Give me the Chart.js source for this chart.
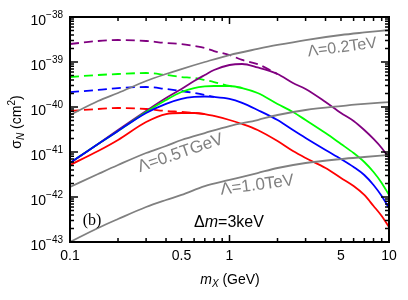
<!DOCTYPE html>
<html>
<head>
<meta charset="utf-8">
<script src="https://cdn.jsdelivr.net/npm/chart.js@4.4.0/dist/chart.umd.min.js"></script>
<style>
  html, body { margin: 0; padding: 0; background: #fff; }
  #wrap { width: 408px; height: 300px; }
</style>
</head>
<body>
<div id="wrap"><canvas id="chart"></canvas></div>
<script>
// m_X in GeV
const mass = [0.1, 0.15, 0.2, 0.3, 0.4, 0.5, 0.6, 0.7, 0.8, 1, 1.2, 1.5, 2, 2.5, 3, 4, 5, 6, 7, 8, 9, 10];
const massLam = [0.1, 0.15, 0.2, 0.3, 0.4, 0.5, 0.7, 1, 1.5, 2, 3, 5, 7, 10];

// sigma_N in cm^2
const purpleSolid = [5.7e-42, 1.51e-41, 3.08e-41, 8.15e-41, 1.58e-40, 2.51e-40, 3.78e-40, 5.14e-40, 6.64e-40, 8.58e-40, 9.03e-40, 7.55e-40, 5.41e-40, 3.41e-40, 2.51e-40, 1.29e-40, 7.36e-41, 4.89e-41, 3.08e-41, 1.95e-41, 1.23e-41, 7.36e-42];
const purpleDash = [2.51e-39, 2.93e-39, 3.08e-39, 2.93e-39, 2.64e-39, 2.51e-39, 2.27e-39, 2.05e-39, 1.75e-39, 1.43e-39, 1.11e-39, 9.0e-40, 5.41e-40];
const greenSolid = [5.7e-42, 1.51e-41, 2.93e-41, 7.74e-41, 1.43e-40, 2.15e-40, 2.64e-40, 2.86e-40, 2.93e-40, 2.93e-40, 2.64e-40, 2.05e-40, 1.17e-40, 7.74e-41, 5.14e-41, 2.64e-41, 1.51e-41, 9.5e-42, 6.0e-42, 3.59e-42, 2.05e-42, 1.11e-42];
const greenDash = [4.64e-40, 5.14e-40, 5.41e-40, 5.7e-40, 5.14e-40, 4.64e-40, 4.41e-40, 3.98e-40, 3.59e-40, 2.93e-40, 2.64e-40];
const blueSolid = [5.7e-42, 1.51e-41, 2.93e-41, 7.36e-41, 1.17e-40, 1.51e-40, 1.67e-40, 1.71e-40, 1.67e-40, 1.51e-40, 1.23e-40, 8.58e-41, 5.14e-41, 3.08e-41, 2.05e-41, 1.11e-41, 6.98e-42, 4.64e-42, 3.08e-42, 1.85e-42, 1.05e-42, 5.7e-43];
const blueDash = [2.15e-40, 2.39e-40, 2.64e-40, 2.78e-40, 2.51e-40, 2.27e-40, 2.05e-40, 1.85e-40, 1.67e-40];
const redSolid = [5.14e-42, 1.05e-41, 1.85e-41, 4.64e-41, 6.98e-41, 7.36e-41, 7.36e-41, 6.98e-41, 6.31e-41, 5.14e-41, 4.19e-41, 3.08e-41, 1.75e-41, 1.05e-41, 7.36e-42, 4.41e-42, 2.64e-42, 1.75e-42, 1.11e-42, 6.31e-43, 3.78e-43, 2.15e-43];
const redDash = [8.15e-41, 9.03e-41, 9.5e-41, 9.03e-41, 8.15e-41, 7.8e-41, 7.4e-41, 6.98e-41];

const lam02 = [6.64e-41, 1.36e-40, 2.05e-40, 3.78e-40, 5.41e-40, 6.98e-40, 1e-39, 1.43e-39, 1.95e-39, 2.39e-39, 3.08e-39, 3.98e-39, 4.53e-39, 5.14e-39];
const lam05 = [1.67e-42, 3.24e-42, 5.14e-42, 9.5e-42, 1.36e-41, 1.85e-41, 2.64e-41, 3.78e-41, 5.14e-41, 6.64e-41, 8.58e-41, 1.05e-40, 1.17e-40, 1.29e-40];
const lam10 = [1e-43, 2.05e-43, 3.24e-43, 6.0e-43, 8.58e-43, 1.11e-42, 1.75e-42, 2.39e-42, 3.41e-42, 4.41e-42, 5.7e-42, 6.98e-42, 7.74e-42, 8.58e-42];

const xTicks = [0.1, 0.5, 1, 5, 10];
const yExps = [-43, -42, -41, -40, -39, -38];

const sans = "Liberation Sans, Arial, sans-serif";

function pts(xs, ys) {
  return ys.map((y, i) => ({ x: xs[i], y: y }));
}

function line(xs, ys, color, dashed) {
  return {
    data: pts(xs, ys),
    borderColor: color,
    borderWidth: 1.8,
    borderDash: dashed ? [9, 5] : [],
    pointRadius: 0,
    fill: false,
    cubicInterpolationMode: "monotone",
  };
}

// draws a run of text pieces centred on (cx, cy); base = baseline offset
function rich(ctx, parts, cx, cy, angle, base) {
  ctx.save();
  ctx.translate(cx, cy);
  ctx.rotate(angle || 0);
  ctx.textBaseline = "alphabetic";
  ctx.textAlign = "left";
  let w = 0;
  parts.forEach((p) => { ctx.font = p.font; w += ctx.measureText(p.t).width; });
  let x = -w / 2;
  parts.forEach((p) => {
    ctx.font = p.font;
    ctx.fillStyle = p.color || "#000";
    ctx.fillText(p.t, x, base + (p.dy || 0));
    x += ctx.measureText(p.t).width;
  });
  ctx.restore();
}

const framePlugin = {
  id: "frame",
  afterDraw(chart) {
    const ctx = chart.ctx;
    const { left, right, top, bottom } = chart.chartArea;
    const xs = chart.scales.x, ys = chart.scales.y;
    ctx.save();
    ctx.strokeStyle = "#000";
    ctx.lineWidth = 1.5;
    ctx.beginPath();
    for (let d = -1; d <= 1; d++) {
      for (let k = 1; k <= 9; k++) {
        const v = k * Math.pow(10, d);
        if (v > 10.0001) break;
        const px = xs.getPixelForValue(v);
        const len = k === 1 ? 7 : 4;
        ctx.moveTo(px, bottom); ctx.lineTo(px, bottom - len);
        ctx.moveTo(px, top); ctx.lineTo(px, top + len);
      }
    }
    for (let e = -43; e <= -38; e++) {
      for (let k = 1; k <= 9; k++) {
        if (e === -38 && k > 1) break;
        const py = ys.getPixelForValue(k * Math.pow(10, e));
        const len = k === 1 ? 8 : 4;
        ctx.moveTo(left, py); ctx.lineTo(left + len, py);
        ctx.moveTo(right, py); ctx.lineTo(right - len, py);
      }
    }
    ctx.stroke();
    ctx.lineWidth = 2;
    ctx.strokeRect(left, top, right - left, bottom - top);

    // y tick labels 10^e
    ctx.fillStyle = "#000";
    ctx.textBaseline = "alphabetic";
    ctx.textAlign = "right";
    yExps.forEach((e) => {
      const py = ys.getPixelForValue(Math.pow(10, e));
      ctx.font = "10px " + sans;
      const ex = "\u2212" + String(-e);
      const ew = ctx.measureText(ex).width;
      ctx.fillText(ex, 63, py + 1);
      ctx.font = "14px " + sans;
      ctx.fillText("10", 63 - ew, py + 8);
    });
    ctx.restore();

    // axis titles
    rich(ctx, [
      { t: "\u03C3", font: "14px " + sans },
      { t: "N", font: "italic 10px " + sans, dy: 3 },
      { t: " (cm", font: "14px " + sans },
      { t: "2", font: "10px " + sans, dy: -6 },
      { t: ")", font: "14px " + sans },
    ], 16, 122, -Math.PI / 2, 5);
    rich(ctx, [
      { t: "m", font: "italic 14px " + sans },
      { t: "X", font: "italic 10px " + sans, dy: 3 },
      { t: " (GeV)", font: "14px " + sans },
    ], 230, 279, 0, 5);

    // curve labels
    const gray = "#808080";
    rich(ctx, [{ t: "\u039B=0.2TeV", font: "16px " + sans, color: gray }], 342, 46, -0.13, 6);
    rich(ctx, [{ t: "\u039B=0.5TGeV", font: "17px " + sans, color: gray }], 180, 152, -0.33, 6);
    rich(ctx, [{ t: "\u039B=1.0TeV", font: "17px " + sans, color: gray }], 257, 184, -0.13, 6);
    rich(ctx, [{ t: "(b)", font: "16px Liberation Serif, Times New Roman, serif" }], 92, 220, 0, 5);
    rich(ctx, [
      { t: "\u0394", font: "16px " + sans },
      { t: "m", font: "italic 16px " + sans },
      { t: "=3keV", font: "16px " + sans },
    ], 229, 221, 0, 6);
  },
};

new Chart(document.getElementById("chart"), {
  type: "line",
  data: {
    datasets: [
      line(massLam, lam02, "#808080", false),
      line(massLam, lam05, "#808080", false),
      line(massLam, lam10, "#808080", false),
      line(mass, redSolid, "#ff0000", false),
      line(mass, blueSolid, "#0000ff", false),
      line(mass, greenSolid, "#00ff00", false),
      line(mass, purpleSolid, "#800080", false),
      line(mass, purpleDash, "#800080", true),
      line(mass, greenDash, "#00ff00", true),
      line(mass, blueDash, "#0000ff", true),
      line(mass, redDash, "#ff0000", true),
    ],
  },
  options: {
    responsive: true,
    maintainAspectRatio: false,
    animation: false,
    layout: { padding: { left: 0, right: 19, top: 17, bottom: 0 } },
    plugins: { legend: { display: false }, tooltip: { enabled: false } },
    scales: {
      x: {
        type: "logarithmic",
        min: 0.1,
        max: 10,
        grid: { display: false, drawTicks: false },
        border: { display: false },
        afterBuildTicks: (scale) => { scale.ticks = xTicks.map((v) => ({ value: v })); },
        afterFit: (scale) => { scale.height = 58; },
        ticks: {
          autoSkip: false,
          maxRotation: 0,
          padding: 6,
          color: "#000",
          font: { size: 14, family: sans },
          callback: (v) => String(v),
        },
      },
      y: {
        type: "logarithmic",
        min: 1e-43,
        max: 1e-38,
        grid: { display: false, drawTicks: false },
        border: { display: false },
        afterBuildTicks: (scale) => { scale.ticks = yExps.map((e) => ({ value: Math.pow(10, e) })); },
        afterFit: (scale) => { scale.width = 70; },
        ticks: { display: false },
      },
    },
  },
  plugins: [framePlugin],
});
</script>
</body>
</html>
